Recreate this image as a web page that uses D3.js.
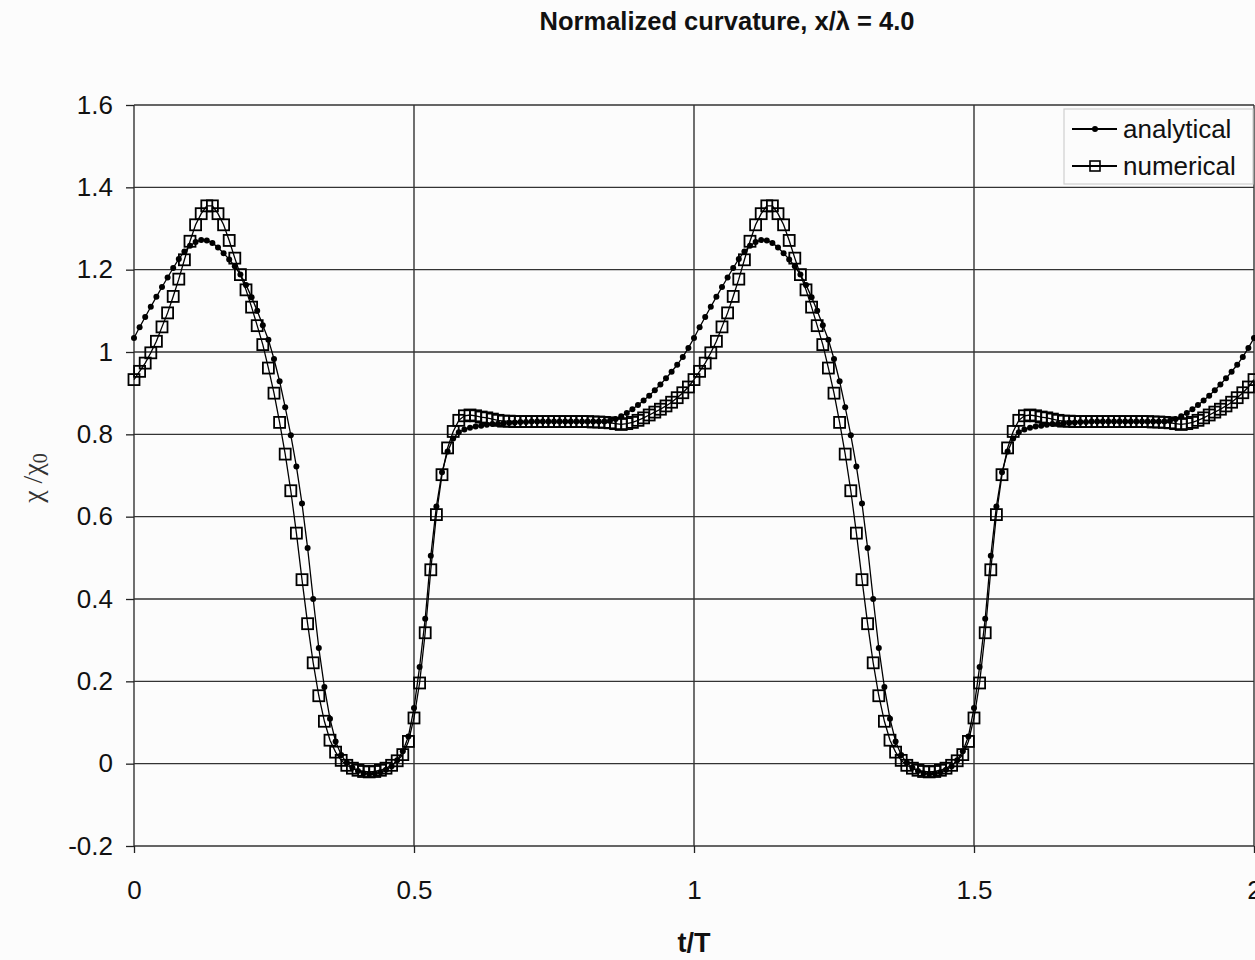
<!DOCTYPE html>
<html>
<head>
<meta charset="utf-8">
<script src="https://cdn.jsdelivr.net/npm/d3@7"></script>
<style>
  html, body { margin: 0; padding: 0; background: #fcfcfc; }
  svg { display: block; font-family: "Liberation Sans", Arial, sans-serif; }
  .axis path { display: none; }
  .axis line { stroke: #222; stroke-width: 1.3px; }
  .axis text { fill: #111; font-size: 26px; }
  .grid line { stroke: #333; stroke-width: 1.4px; }
</style>
</head>
<body>
<div id="chart"></div>
<script>
var analyticalCycle = [
  1.034, 1.060, 1.085, 1.110, 1.134, 1.158, 1.181, 1.204, 1.226, 1.244,
  1.258, 1.267, 1.272, 1.271, 1.265, 1.254, 1.240, 1.225, 1.208, 1.188,
  1.163, 1.133, 1.100, 1.065, 1.030, 0.983, 0.929, 0.866, 0.798, 0.722,
  0.632, 0.524, 0.400, 0.281, 0.186, 0.109, 0.054, 0.021, 0.002, -0.010,
  -0.018, -0.023, -0.025, -0.024, -0.021, -0.015, -0.006, 0.008, 0.030, 0.066,
  0.135, 0.235, 0.352, 0.505, 0.625, 0.708, 0.758, 0.790, 0.805, 0.812,
  0.816, 0.819, 0.821, 0.823, 0.825, 0.826, 0.827, 0.828, 0.829, 0.830,
  0.830, 0.831, 0.831, 0.831, 0.831, 0.831, 0.831, 0.831, 0.831, 0.831,
  0.831, 0.831, 0.831, 0.831, 0.831, 0.833, 0.837, 0.844, 0.852, 0.861,
  0.871, 0.882, 0.894, 0.907, 0.921, 0.936, 0.952, 0.969, 0.988, 1.010,
  1.034
];
var numericalCycle = [
  0.933, 0.953, 0.973, 0.998, 1.026, 1.061, 1.095, 1.135, 1.177, 1.224,
  1.269, 1.309, 1.336, 1.355, 1.355, 1.336, 1.309, 1.271, 1.228, 1.188,
  1.151, 1.109, 1.064, 1.018, 0.961, 0.900, 0.829, 0.752, 0.663, 0.560,
  0.447, 0.340, 0.245, 0.165, 0.103, 0.057, 0.028, 0.008, -0.004, -0.011,
  -0.016, -0.019, -0.020, -0.019, -0.016, -0.011, -0.004, 0.007, 0.022, 0.054,
  0.111, 0.196, 0.318, 0.471, 0.605, 0.702, 0.767, 0.807, 0.834, 0.845,
  0.847, 0.845, 0.842, 0.840, 0.837, 0.834, 0.832, 0.832, 0.831, 0.831,
  0.831, 0.831, 0.831, 0.831, 0.831, 0.831, 0.831, 0.831, 0.831, 0.831,
  0.831, 0.831, 0.830, 0.830, 0.829, 0.828, 0.826, 0.824, 0.826, 0.829,
  0.834, 0.840, 0.847, 0.854, 0.861, 0.869, 0.878, 0.889, 0.901, 0.915,
  0.933
];
var cycleStep = 0.01;   // sampling step of t/T
var cycleCount = 2;     // the chart shows two identical periods

var xTicks = [0, 0.5, 1, 1.5, 2];
var xTickLabels = ["0", "0.5", "1", "1.5", "2"];
var yTicks = [-0.2, 0, 0.2, 0.4, 0.6, 0.8, 1, 1.2, 1.4, 1.6];
var yTickLabels = ["-0.2", "0", "0.2", "0.4", "0.6", "0.8", "1", "1.2", "1.4", "1.6"];
var seriesNames = ["analytical", "numerical"];

var chartTitle = "Normalized curvature, x/\u03bb = 4.0";
var xTitle = "t/T";

function buildSeries(cycle) {
  var pts = [];
  for (var c = 0; c < cycleCount; c++) {
    for (var i = (c === 0 ? 0 : 1); i < cycle.length; i++) {
      pts.push({t: c + i * cycleStep, v: cycle[i]});
    }
  }
  return pts;
}

var analytical = buildSeries(analyticalCycle);
var numerical = buildSeries(numericalCycle);

var width = 1255, height = 960;
var plotLeft = 134, plotTop = 105, plotRight = 1254, plotBottom = 846;

var x = d3.scaleLinear().domain([0, 2]).range([plotLeft, plotRight]);
var y = d3.scaleLinear().domain([-0.2, 1.6]).range([plotBottom, plotTop]);

var svg = d3.select("#chart").append("svg")
  .attr("width", width)
  .attr("height", height);

svg.append("rect").attr("width", width).attr("height", height).attr("fill", "#fcfcfc");

// grid
var grid = svg.append("g").attr("class", "grid");
grid.selectAll(".h").data(yTicks).enter().append("line")
  .attr("x1", plotLeft).attr("x2", plotRight)
  .attr("y1", function(d) { return y(d); })
  .attr("y2", function(d) { return y(d); });
grid.selectAll(".v").data(xTicks).enter().append("line")
  .attr("x1", function(d) { return x(d); })
  .attr("x2", function(d) { return x(d); })
  .attr("y1", plotTop).attr("y2", plotBottom);

// axes
svg.append("g")
  .attr("class", "axis")
  .attr("transform", "translate(" + plotLeft + ",0)")
  .call(d3.axisLeft(y)
    .tickValues(yTicks)
    .tickSize(8)
    .tickPadding(13)
    .tickFormat(function(d, i) { return yTickLabels[i]; }));

svg.append("g")
  .attr("class", "axis")
  .attr("transform", "translate(0," + plotBottom + ")")
  .call(d3.axisBottom(x)
    .tickValues(xTicks)
    .tickSize(7)
    .tickPadding(28)
    .tickFormat(function(d, i) { return xTickLabels[i]; }));

// series
var line = d3.line()
  .x(function(d) { return x(d.t); })
  .y(function(d) { return y(d.v); });

svg.append("path")
  .datum(analytical)
  .attr("fill", "none")
  .attr("stroke", "#000")
  .attr("stroke-width", 1.3)
  .attr("d", line);

svg.append("path")
  .datum(numerical)
  .attr("fill", "none")
  .attr("stroke", "#000")
  .attr("stroke-width", 1.3)
  .attr("d", line);

svg.selectAll(".dot")
  .data(analytical)
  .enter().append("circle")
  .attr("class", "dot")
  .attr("cx", function(d) { return x(d.t); })
  .attr("cy", function(d) { return y(d.v); })
  .attr("r", 3)
  .attr("fill", "#000");

var sq = 11;
svg.selectAll(".sq")
  .data(numerical)
  .enter().append("rect")
  .attr("class", "sq")
  .attr("x", function(d) { return x(d.t) - sq / 2; })
  .attr("y", function(d) { return y(d.v) - sq / 2; })
  .attr("width", sq)
  .attr("height", sq)
  .attr("fill", "none")
  .attr("stroke", "#000")
  .attr("stroke-width", 1.8);

// legend
var legend = svg.append("g").attr("transform", "translate(1064,109)");
legend.append("rect")
  .attr("width", 189).attr("height", 75)
  .attr("fill", "#fcfcfc")
  .attr("stroke", "#cfcfcf")
  .attr("stroke-width", 1.2);

var item = legend.selectAll(".item")
  .data(seriesNames)
  .enter().append("g")
  .attr("transform", function(d, i) { return "translate(8," + (20 + i * 37) + ")"; });

item.append("line")
  .attr("x1", 0).attr("x2", 45)
  .attr("stroke", "#000").attr("stroke-width", 1.8);

item.filter(function(d, i) { return i === 0; }).append("circle")
  .attr("cx", 23).attr("r", 3).attr("fill", "#000");
item.filter(function(d, i) { return i === 1; }).append("rect")
  .attr("x", 18).attr("y", -5).attr("width", 10).attr("height", 10)
  .attr("fill", "none").attr("stroke", "#000").attr("stroke-width", 1.6);

item.append("text")
  .attr("x", 51)
  .attr("dy", "0.35em")
  .attr("font-size", 26)
  .attr("fill", "#111")
  .text(function(d) { return d; });

// titles
svg.append("text")
  .attr("x", 727).attr("y", 30)
  .attr("text-anchor", "middle")
  .attr("font-size", 25.5)
  .attr("font-weight", "bold")
  .attr("fill", "#111")
  .text(chartTitle);

svg.append("text")
  .attr("x", 694).attr("y", 952)
  .attr("text-anchor", "middle")
  .attr("font-size", 27)
  .attr("font-weight", "bold")
  .attr("fill", "#111")
  .text(xTitle);

var yTitle = svg.append("text")
  .attr("transform", "translate(42,478) rotate(-90)")
  .attr("text-anchor", "middle")
  .attr("font-family", "'Liberation Serif', serif")
  .attr("font-size", 28)
  .attr("fill", "#333");
yTitle.append("tspan").text("\u03c7 /\u03c7");
yTitle.append("tspan").attr("font-size", 20).attr("dy", 5).text("0");
</script>
</body>
</html>
